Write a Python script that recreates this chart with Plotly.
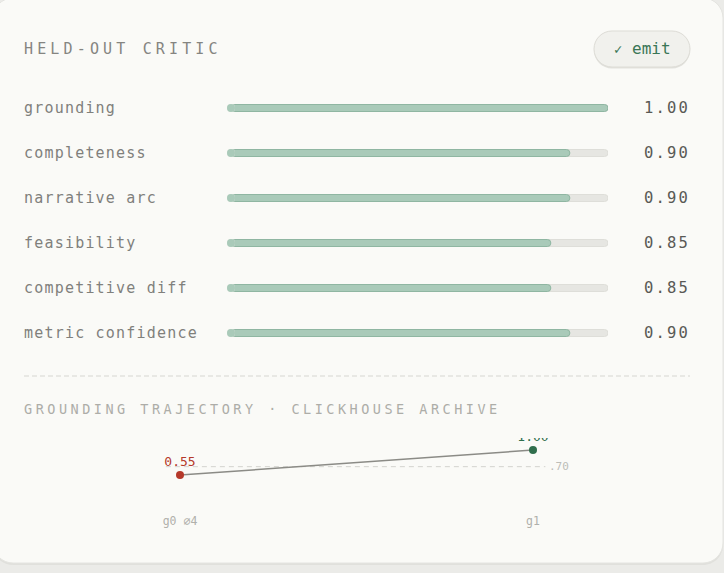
import plotly.graph_objects as go

# ---------------- data ----------------
criteria = ["grounding", "completeness", "narrative arc", "feasibility",
            "competitive diff", "metric confidence"]
scores = [1.00, 0.90, 0.90, 0.85, 0.85, 0.90]

traj_labels = ["g0 ⌀4", "g1"]
traj_values = [0.55, 1.00]
threshold = 0.70

title_text = "HELD-OUT CRITIC"
subtitle_text = "GROUNDING TRAJECTORY · CLICKHOUSE ARCHIVE"
badge_text = "✓ emit"

# ---------------- geometry helpers ----------------
W, H = 724, 573
FONT = "DejaVu Sans Mono"


def fx(px):
    return px / W


def fy(py):
    return 1 - py / H


def rrect(x0, y0, x1, y1, r):
    k = 0.5523 * r
    p = lambda x, y: f"{fx(x):.5f},{fy(y):.5f}"
    return (f"M{p(x0 + r, y0)} L{p(x1 - r, y0)} "
            f"C{p(x1 - r + k, y0)} {p(x1, y0 + r - k)} {p(x1, y0 + r)} "
            f"L{p(x1, y1 - r)} "
            f"C{p(x1, y1 - r + k)} {p(x1 - r + k, y1)} {p(x1 - r, y1)} "
            f"L{p(x0 + r, y1)} "
            f"C{p(x0 + r - k, y1)} {p(x0, y1 - r + k)} {p(x0, y1 - r)} "
            f"L{p(x0, y0 + r)} "
            f"C{p(x0, y0 + r - k)} {p(x0 + r - k, y0)} {p(x0 + r, y0)} Z")


# bar track geometry (px)
BX0, BX1 = 227, 608
ROW0, ROWSTEP = 108, 45
RAD = 4.0
rdat = RAD / (BX1 - BX0)
n = len(criteria)
idx = list(range(n))

TRACK = "#e6e6e2"
TRACK_LINE = "#deded9"
FILL = "#a9cab9"
FILL_LINE = "#8fb6a2"

fig = go.Figure()

# track bars (rounded far end via cornerradius, rounded near end via a dot)
fig.add_trace(go.Bar(
    x=[1 - rdat] * n, base=[rdat] * n, y=idx, orientation="h",
    width=7 / ROWSTEP, marker=dict(color=TRACK, line=dict(color=TRACK_LINE, width=1),
                                   cornerradius=4),
    hoverinfo="skip", showlegend=False, xaxis="x", yaxis="y"))
fig.add_trace(go.Scatter(
    x=[rdat] * n, y=idx, mode="markers",
    marker=dict(size=8, color=TRACK, line=dict(width=0)),
    hoverinfo="skip", showlegend=False, xaxis="x", yaxis="y"))
# score bars
fig.add_trace(go.Bar(
    x=[v - rdat for v in scores], base=[rdat] * n, y=idx, orientation="h",
    width=7 / ROWSTEP, marker=dict(color=FILL, line=dict(color=FILL_LINE, width=1),
                                   cornerradius=4),
    hoverinfo="skip", showlegend=False, xaxis="x", yaxis="y"))
fig.add_trace(go.Scatter(
    x=[rdat] * n, y=idx, mode="markers",
    marker=dict(size=8, color=FILL, line=dict(width=0)),
    hoverinfo="skip", showlegend=False, xaxis="x", yaxis="y"))

# ---------------- trajectory mini chart ----------------
RED = "#b5392b"
GREEN = "#2f6e4c"
fig.add_trace(go.Scatter(
    x=[-0.04, 1.035], y=[threshold, threshold], mode="lines",
    line=dict(color="#d3d3ce", width=1, dash="5px,4px"),
    hoverinfo="skip", showlegend=False, xaxis="x2", yaxis="y2"))
fig.add_trace(go.Scatter(
    x=list(range(len(traj_values))), y=traj_values, mode="lines+markers+text",
    line=dict(color="#8b8b86", width=1.5),
    marker=dict(size=8, color=[RED, GREEN]),
    text=[f"{v:.2f}" for v in traj_values], textposition="top center",
    textfont=dict(family=FONT, size=13, color=[RED, GREEN]),
    cliponaxis=True, hoverinfo="skip", showlegend=False, xaxis="x2", yaxis="y2"))

# ---------------- shapes ----------------
shapes = [
    # card shadow + card
    dict(type="path", path=rrect(-7, 0, 723, 565, 20), xref="paper", yref="paper",
         fillcolor="#e0e0dc", line=dict(width=0), layer="below"),
    dict(type="path", path=rrect(-7, -2, 723, 563, 20), xref="paper", yref="paper",
         fillcolor="#fafaf7", line=dict(color="#e4e4e0", width=1), layer="below"),
    # badge shadow + badge
    dict(type="path", path=rrect(594, 32.5, 690, 68.5, 18), xref="paper", yref="paper",
         fillcolor="#e2e2dd", line=dict(width=0), layer="below"),
    dict(type="path", path=rrect(594, 31, 690, 67, 18), xref="paper", yref="paper",
         fillcolor="#f1f1ed", line=dict(color="#dddcd6", width=1), layer="below"),
    # dashed separator
    dict(type="line", x0=fx(24), x1=fx(690), y0=fy(376), y1=fy(376),
         xref="paper", yref="paper", line=dict(color="#d6d6d1", width=1, dash="5px,3px")),
]

# ---------------- annotations ----------------
LX = 22
ann = [
    dict(text=f"<span style='letter-spacing:4.15px'>{title_text}</span>",
         x=fx(LX), y=fy(49), xref="paper", yref="paper", xanchor="left", yanchor="middle",
         showarrow=False, font=dict(family=FONT, size=15, color="#858581")),
    dict(text=f"<span style='font-size:14px'>{badge_text[0]}</span>{badge_text[1:]}",
         x=fx(642), y=fy(49), xref="paper", yref="paper", xanchor="center", yanchor="middle",
         showarrow=False, font=dict(family=FONT, size=16, color="#3a7656")),
    dict(text=f"<span style='letter-spacing:3.5px'>{subtitle_text}</span>",
         x=fx(LX), y=fy(409), xref="paper", yref="paper", xanchor="left", yanchor="middle",
         showarrow=False, font=dict(family=FONT, size=13.5, color="#adada8")),
    dict(text=f".{int(round(threshold * 100))}", x=1.04, y=threshold, xref="x2", yref="y2",
         xanchor="left", yanchor="middle", showarrow=False,
         font=dict(family=FONT, size=11, color="#bdbdb8")),
]
for i, (c, v) in enumerate(zip(criteria, scores)):
    ann.append(dict(text=f"<span style='letter-spacing:1.2px'>{c}</span>",
                    x=fx(LX), y=i, xref="paper", yref="y", xanchor="left", yanchor="middle",
                    showarrow=False, font=dict(family=FONT, size=15, color="#80807c")))
    ann.append(dict(text=f"<span style='letter-spacing:2.2px'>{v:.2f}</span>",
                    x=fx(692), y=i, xref="paper", yref="y", xanchor="right", yanchor="middle",
                    showarrow=False, font=dict(family=FONT, size=15.5, color="#595955")))

# ---------------- layout ----------------
PX_PER_UNIT = 55.6
TOP = 438
fig.update_layout(
    width=W, height=H, margin=dict(l=0, r=0, t=0, b=0),
    paper_bgcolor="#ebebe8", plot_bgcolor="rgba(0,0,0,0)",
    barmode="overlay", showlegend=False,
    font=dict(family=FONT),
    xaxis=dict(domain=[fx(BX0), fx(BX1)], range=[0, 1], visible=False, fixedrange=True),
    yaxis=dict(domain=[fy(ROW0 + (n - 0.5) * ROWSTEP), fy(ROW0 - 0.5 * ROWSTEP)],
               range=[n - 0.5, -0.5], visible=False, fixedrange=True),
    xaxis2=dict(domain=[fx(24), fx(690)], range=[(24 - 180) / 353, 1 + (690 - 533) / 353],
                tickmode="array", tickvals=list(range(len(traj_labels))), ticktext=traj_labels,
                showgrid=False, zeroline=False, showline=False, ticks="",
                tickfont=dict(family=FONT, size=11.5, color="#b0b0ab"),
                ticklabelstandoff=7, anchor="y2", fixedrange=True),
    yaxis2=dict(domain=[fy(450 + 1.0 * PX_PER_UNIT), fy(TOP)],
                range=[0, 1 + (450 - TOP) / PX_PER_UNIT], visible=False,
                anchor="x2", fixedrange=True),
    shapes=shapes, annotations=ann,
)

fig.write_html("out.html")
